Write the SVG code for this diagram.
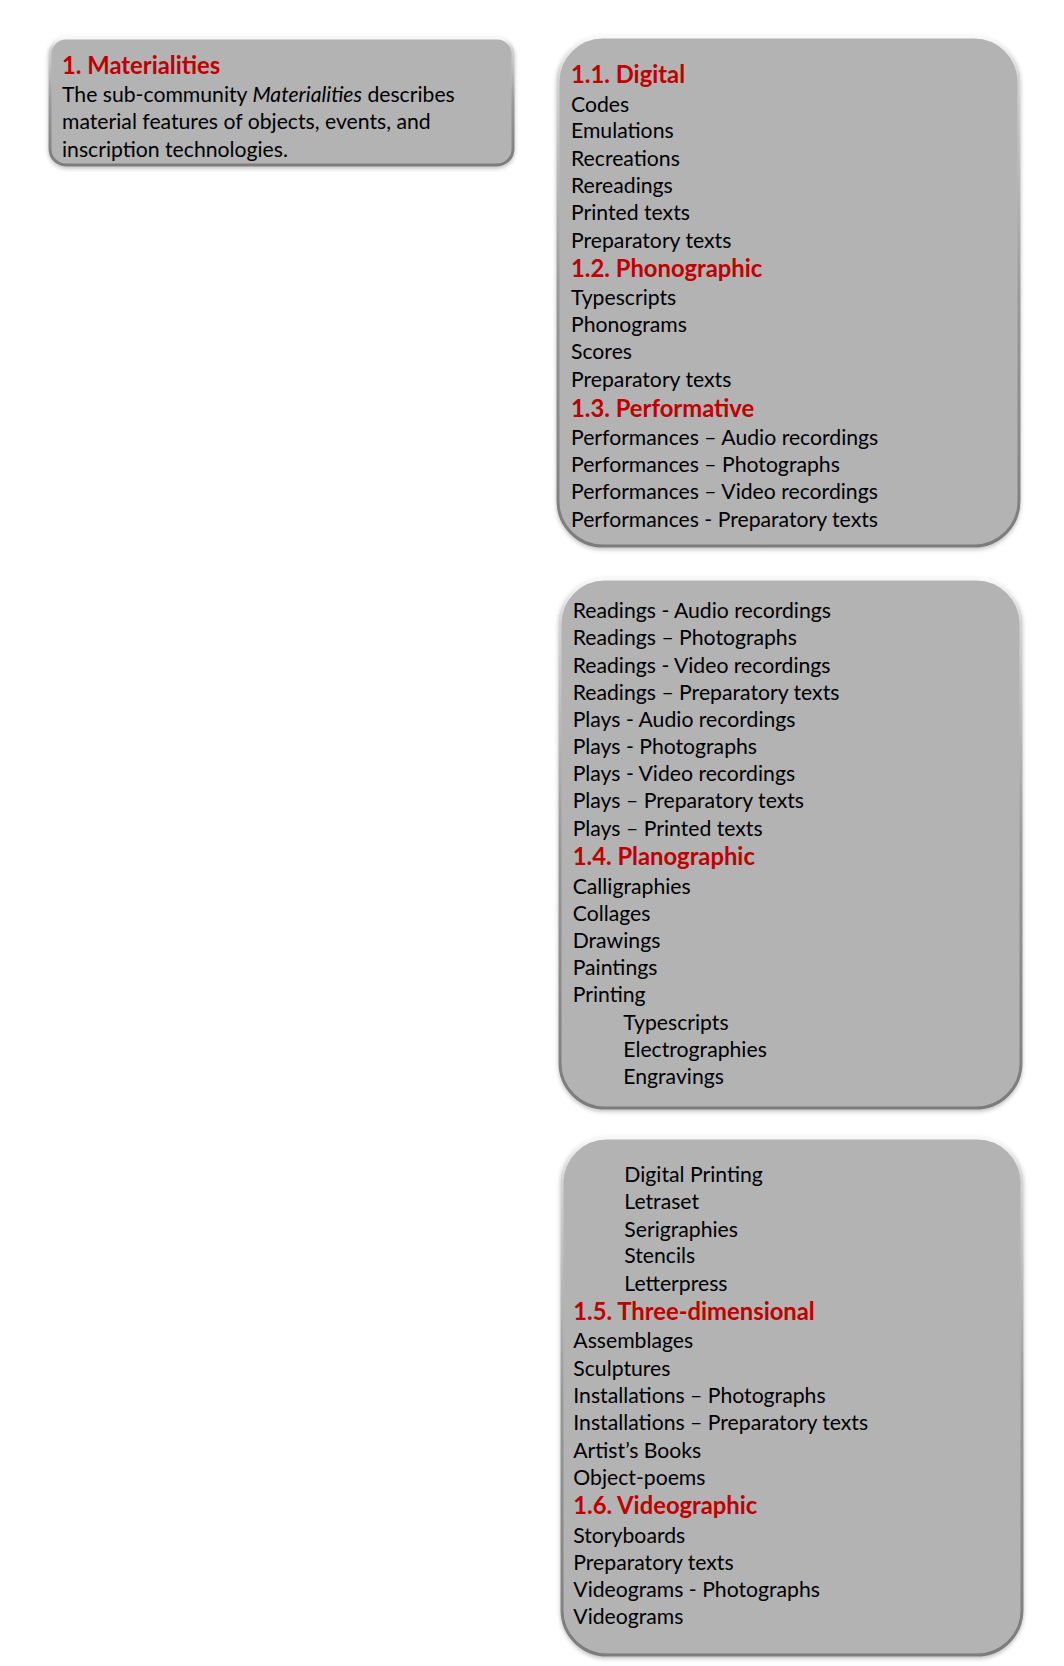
<svg xmlns="http://www.w3.org/2000/svg" width="1064" height="1666" viewBox="0 0 1064 1666">
<defs>
<linearGradient id="rim" x1="0" y1="0" x2="0" y2="1">
<stop offset="0" stop-color="#f8f8f8"/>
<stop offset="0.08" stop-color="#d4d4d4"/>
<stop offset="0.5" stop-color="#9a9a9a"/>
<stop offset="1" stop-color="#7c7c7c"/>
</linearGradient>
<filter id="sh" x="-5%" y="-5%" width="110%" height="110%">
<feDropShadow dx="0" dy="2" stdDeviation="2" flood-color="#000" flood-opacity="0.25"/>
</filter>
</defs>
<style>
.box{fill:#b3b3b3;stroke:url(#rim);stroke-width:3;filter:url(#sh)}
text{font-family:Lato,"Liberation Sans",sans-serif;font-size:21.2px;fill:#000}
.h{font-weight:bold;fill:#c00000;font-size:23.8px}
.i{font-style:italic}
</style>
<rect width="1064" height="1666" fill="#fff"/>
<g id="node-materialities">
<rect class="box" x="50" y="38" width="463" height="127" rx="16"/>
<text class="h" x="62" y="74">1. Materialities</text>
<text x="62" y="101.7">The sub-community <tspan class="i">Materialities</tspan> describes</text>
<text x="62" y="129.3">material features of objects, events, and</text>
<text x="62" y="156.7">inscription technologies.</text>
</g>
<g id="node-list-1">
<rect class="box" x="558" y="37" width="461" height="509" rx="45"/>
<text class="h" x="571" y="83.3">1.1. Digital</text>
<text x="571" y="111.7">Codes</text>
<text x="571" y="138.3">Emulations</text>
<text x="571" y="165.7">Recreations</text>
<text x="571" y="192.7">Rereadings</text>
<text x="571" y="220">Printed texts</text>
<text x="571" y="247.7">Preparatory texts</text>
<text class="h" x="571" y="277.3">1.2. Phonographic</text>
<text x="571" y="304.6">Typescripts</text>
<text x="571" y="332">Phonograms</text>
<text x="571" y="359.3">Scores</text>
<text x="571" y="386.7">Preparatory texts</text>
<text class="h" x="571" y="416.7">1.3. Performative</text>
<text x="571" y="445">Performances – Audio recordings</text>
<text x="571" y="471.7">Performances – Photographs</text>
<text x="571" y="499">Performances – Video recordings</text>
<text x="571" y="526.7">Performances - Preparatory texts</text>
</g>
<g id="node-list-2">
<rect class="box" x="560" y="579" width="461" height="529" rx="45"/>
<text x="572.7" y="617.7">Readings - Audio recordings</text>
<text x="572.7" y="645">Readings – Photographs</text>
<text x="572.7" y="672.7">Readings - Video recordings</text>
<text x="572.7" y="700">Readings – Preparatory texts</text>
<text x="572.7" y="727.3">Plays - Audio recordings</text>
<text x="572.7" y="754.3">Plays - Photographs</text>
<text x="572.7" y="781">Plays - Video recordings</text>
<text x="572.7" y="808.3">Plays – Preparatory texts</text>
<text x="572.7" y="835.7">Plays – Printed texts</text>
<text class="h" x="572.7" y="865">1.4. Planographic</text>
<text x="572.7" y="894.3">Calligraphies</text>
<text x="572.7" y="921">Collages</text>
<text x="572.7" y="947.7">Drawings</text>
<text x="572.7" y="975">Paintings</text>
<text x="572.7" y="1002.3">Printing</text>
<text x="623.3" y="1030">Typescripts</text>
<text x="623.3" y="1056.7">Electrographies</text>
<text x="623.3" y="1084">Engravings</text>
</g>
<g id="node-list-3">
<rect class="box" x="562" y="1138" width="460" height="517" rx="45"/>
<text x="624.3" y="1181.7">Digital Printing</text>
<text x="624.3" y="1209">Letraset</text>
<text x="624.3" y="1236.7">Serigraphies</text>
<text x="624.3" y="1263.3">Stencils</text>
<text x="624.3" y="1290.7">Letterpress</text>
<text class="h" x="573.3" y="1320">1.5. Three-dimensional</text>
<text x="573.3" y="1348.3">Assemblages</text>
<text x="573.3" y="1375.7">Sculptures</text>
<text x="573.3" y="1402.7">Installations – Photographs</text>
<text x="573.3" y="1430">Installations – Preparatory texts</text>
<text x="573.3" y="1457.7">Artist’s Books</text>
<text x="573.3" y="1485">Object-poems</text>
<text class="h" x="573.3" y="1514.3">1.6. Videographic</text>
<text x="573.3" y="1542.7">Storyboards</text>
<text x="573.3" y="1570">Preparatory texts</text>
<text x="573.3" y="1596.7">Videograms - Photographs</text>
<text x="573.3" y="1624">Videograms</text>
</g>
</svg>
